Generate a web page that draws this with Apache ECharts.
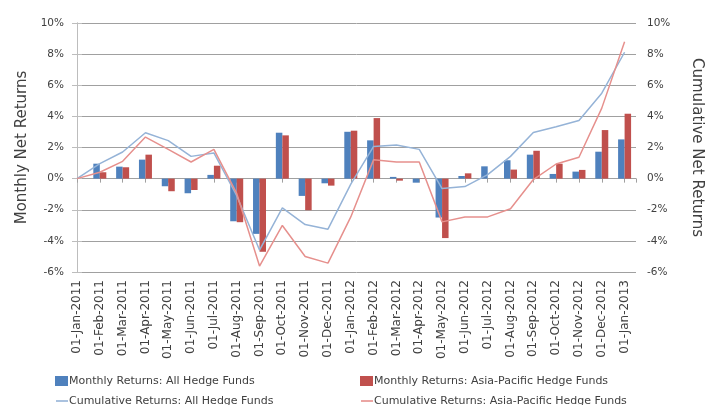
<!DOCTYPE html>
<html><head><meta charset="utf-8">
<script src="https://cdn.jsdelivr.net/npm/echarts@6/dist/echarts.min.js"></script>
<style>html,body{margin:0;padding:0;background:#fff}#c{width:713px;height:405px}</style>
</head><body><div id="c"></div>
<script>
const categories = ['01-Jan-2011','01-Feb-2011','01-Mar-2011','01-Apr-2011','01-May-2011','01-Jun-2011','01-Jul-2011','01-Aug-2011','01-Sep-2011','01-Oct-2011','01-Nov-2011','01-Dec-2011','01-Jan-2012','01-Feb-2012','01-Mar-2012','01-Apr-2012','01-May-2012','01-Jun-2012','01-Jul-2012','01-Aug-2012','01-Sep-2012','01-Oct-2012','01-Nov-2012','01-Dec-2012','01-Jan-2013'];
const monthlyAll = [0, 0.96, 0.77, 1.22, -0.49, -0.94, 0.24, -2.74, -3.55, 2.95, -1.11, -0.30, 3.01, 2.46, 0.11, -0.26, -2.50, 0.17, 0.79, 1.18, 1.54, 0.30, 0.45, 1.73, 2.52];
const monthlyAP = [0, 0.41, 0.73, 1.54, -0.81, -0.73, 0.83, -2.80, -4.70, 2.78, -2.03, -0.45, 3.08, 3.89, -0.13, 0.02, -3.82, 0.34, 0.00, 0.58, 1.79, 0.96, 0.56, 3.12, 4.17];
const cumAll = [0, 0.96, 1.71, 2.95, 2.44, 1.43, 1.65, -1.10, -4.59, -1.88, -2.95, -3.25, -0.35, 2.07, 2.16, 1.88, -0.64, -0.51, 0.26, 1.43, 2.97, 3.33, 3.74, 5.49, 8.12];
const cumAP = [0, 0.41, 1.11, 2.67, 1.88, 1.07, 1.88, -0.95, -5.62, -3.01, -5.00, -5.43, -2.46, 1.22, 1.07, 1.07, -2.78, -2.46, -2.46, -1.94, -0.06, 0.94, 1.37, 4.53, 8.80];
const yTicks = {min: -6, max: 10, interval: 2};
const names = ['Monthly Returns: All Hedge Funds','Monthly Returns: Asia-Pacific Hedge Funds','Cumulative Returns: All Hedge Funds','Cumulative Returns: Asia-Pacific Hedge Funds'];

const FONT = 'DejaVu Sans';
const TXT = '#404040';
const GRID = '#A0A0A0';
const AX = '#BDBDBD';
const pair = arr => arr.map((v, i) => [i, v]);

const chart = echarts.init(document.getElementById('c'), null, {renderer: 'canvas'});
const legendBase = (name, left, top, isLine) => ({
  data: [{name: name, icon: 'rect'}], left: left, top: top, orient: 'horizontal',
  itemWidth: isLine ? 12 : 13, itemHeight: isLine ? 1.6 : 10, padding: 0, selectedMode: false,
  textStyle: {fontFamily: FONT, fontSize: 11, color: TXT, lineHeight: 14, padding: [0, 0, 0, -4]}
});
chart.setOption({
  animation: false,
  backgroundColor: '#fff',
  textStyle: {fontFamily: FONT},
  grid: {left: 77, right: 77, top: 23, bottom: 133, containLabel: false},
  legend: [
    legendBase(names[0], 55, 374, false),
    legendBase(names[1], 360, 374, false),
    legendBase(names[2], 56, 394, true),
    legendBase(names[3], 361, 394, true)
  ],
  xAxis: [
    {type: 'value', min: 0, max: 24.5, interval: 1, position: 'bottom',
     axisLine: {show: false, onZero: false}, axisTick: {show: false}, splitLine: {show: false},
     axisLabel: {rotate: 90, margin: 8, fontFamily: FONT, fontSize: 12, color: TXT, showMaxLabel: false,
       formatter: v => (Number.isInteger(v) && categories[v]) ? categories[v] : ''}},
    {type: 'value', min: 0, max: 24.5, interval: 1, position: 'bottom',
     axisLine: {show: true, onZero: true, onZeroAxisIndex: 0, lineStyle: {color: GRID, width: 1}},
     axisTick: {show: true, length: 4, lineStyle: {color: GRID}},
     axisLabel: {show: false}, splitLine: {show: false}}
  ],
  yAxis: [
    {type: 'value', min: yTicks.min, max: yTicks.max, interval: yTicks.interval, position: 'left',
     name: 'Monthly Net Returns', nameLocation: 'middle', nameRotate: 90, nameGap: 45,
     nameTextStyle: {fontFamily: FONT, fontSize: 15, color: TXT},
     axisLine: {show: true, lineStyle: {color: AX}}, axisTick: {show: true, length: 5, lineStyle: {color: AX}},
     axisLabel: {formatter: '{value}%', margin: 13, fontFamily: FONT, fontSize: 10.5, color: TXT},
     splitLine: {show: true, lineStyle: {color: GRID, width: 1}}},
    {type: 'value', min: yTicks.min, max: yTicks.max, interval: yTicks.interval, position: 'right',
     name: 'Cumulative Net Returns', nameLocation: 'middle', nameRotate: -90, nameGap: 53,
     nameTextStyle: {fontFamily: FONT, fontSize: 15, color: TXT},
     axisLine: {show: true, lineStyle: {color: AX}}, axisTick: {show: true, length: 5, lineStyle: {color: AX}},
     axisLabel: {formatter: '{value}%', margin: 11, fontFamily: FONT, fontSize: 10.5, color: TXT},
     splitLine: {show: false}}
  ],
  series: [
    {name: names[0], type: 'bar', xAxisIndex: 0, yAxisIndex: 0, data: pair(monthlyAll),
     barWidth: 6.5, barGap: '0%', itemStyle: {color: '#4F81BD'}, z: 2},
    {name: names[1], type: 'bar', xAxisIndex: 0, yAxisIndex: 0, data: pair(monthlyAP),
     barWidth: 6.5, barGap: '0%', itemStyle: {color: '#C0504D'}, z: 2},
    {name: names[2], type: 'line', xAxisIndex: 0, yAxisIndex: 1, data: pair(cumAll),
     symbol: 'none', lineStyle: {color: '#95B3D7', width: 1.5}, itemStyle: {color: '#95B3D7'}, z: 3},
    {name: names[3], type: 'line', xAxisIndex: 0, yAxisIndex: 1, data: pair(cumAP),
     symbol: 'none', lineStyle: {color: '#E6908D', width: 1.5}, itemStyle: {color: '#E6908D'}, z: 3}
  ]
});
</script>
</body></html>
